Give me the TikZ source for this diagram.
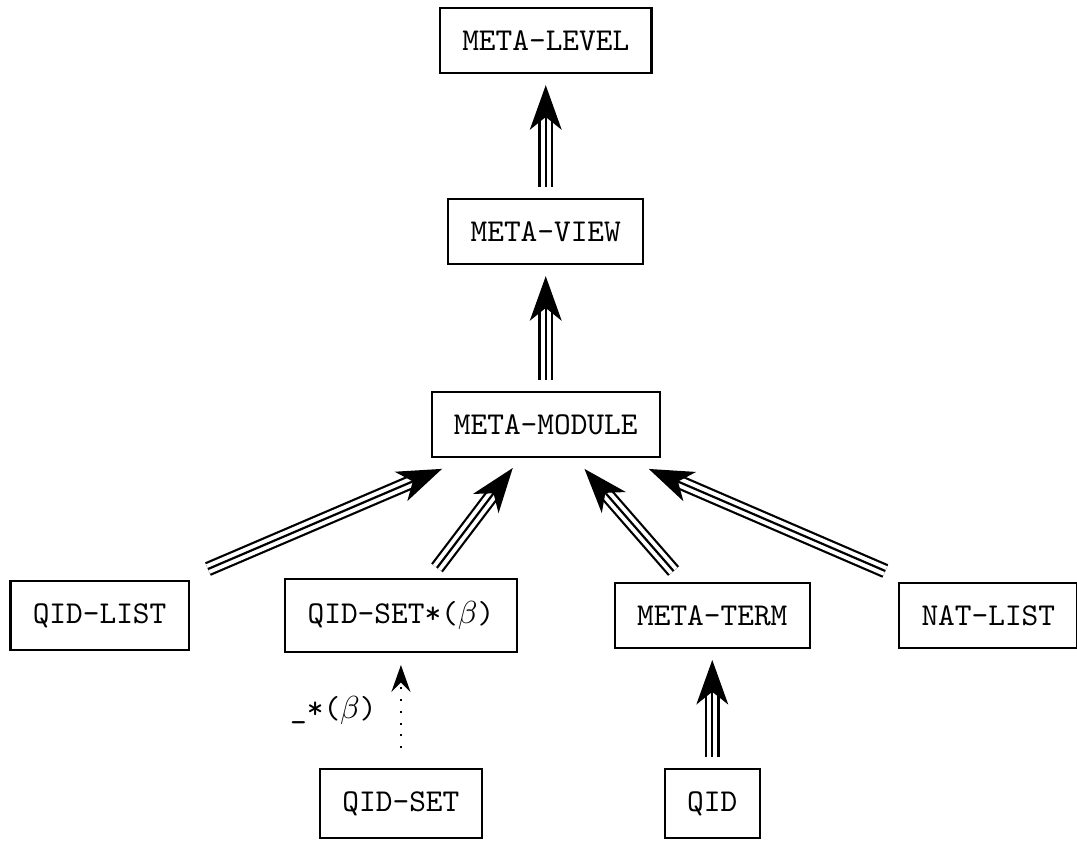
\documentclass[tikz,border=0pt]{standalone}
\usepackage{tikz}
\usetikzlibrary{arrows.meta,calc}

\tikzset{
  box/.style={draw, line width=0.65pt, inner sep=7pt, font=\ttfamily},
  inc/.style={line width=0.7pt, -{Stealth[length=14pt,width=10pt,inset=4pt]},
    shorten <=#1, shorten >=#1,
    preaction={draw, -, line width=0.7pt, double, double distance=3.2pt,
      shorten <=#1, shorten >=#1+9pt}},
  inc/.default=3.5pt,
  param/.style={line width=0.65pt, dash pattern=on 0.65pt off 3.05pt,
    -{Stealth[length=8.5pt,width=6pt,inset=3pt]}, shorten <=6.3pt, shorten >=3.8pt}
}

\begin{document}
\begin{tikzpicture}
	\useasboundingbox (0,0) rectangle (11.90,-9.29);
	% modules
	\node[box] (level) at (6.03,-0.45) {META-LEVEL};
	\node[box] (view) at (6.03,-2.56) {META-VIEW};
	\node[box] (module) at (6.03,-4.69) {META-MODULE};
	\node[box] (qidlist) at (1.10,-6.80) {QID-LIST};
	\node[box] (qidsetb) at (4.43,-6.80) {QID-SET*($\beta$)};
	\node[box] (term) at (7.87,-6.80) {META-TERM};
	\node[box] (natlist) at (10.92,-6.80) {NAT-LIST};
	\node[box] (qidset) at (4.43,-8.88) {QID-SET};
	\node[box] (qid) at (7.87,-8.88) {QID};
	% imports
	\draw[inc] (view) -- (level);
	\draw[inc] (module) -- (view);
	\draw[inc=8.8pt] (qidlist) -- (module);
	\draw[inc=4pt] (qidsetb) -- (module);
	\draw[inc=4.6pt] (term) -- (module);
	\draw[inc=8.8pt] (natlist) -- (module);
	\draw[inc] (qid) -- (term);
	% view
	\draw[param] (qidset) -- (qidsetb) node[midway,left=4pt]{\texttt{\_*(}$\beta$\texttt{)}};
\end{tikzpicture}
\end{document}
